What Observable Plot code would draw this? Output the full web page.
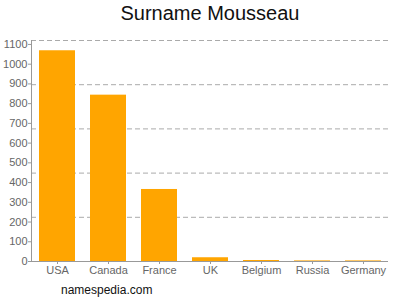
<!DOCTYPE html>
<html>
<head>
<meta charset="utf-8">
<script src="https://cdn.jsdelivr.net/npm/d3@7"></script>
<script src="https://cdn.jsdelivr.net/npm/@observablehq/plot@0.6"></script>
<style>
  html, body { margin: 0; padding: 0; background: #fff; }
  #wrap { position: relative; width: 400px; height: 300px; font-family: "Liberation Sans", Arial, sans-serif; }
  #title { position: absolute; left: 0; width: 420px; top: 2px; text-align: center; font-size: 20px; color: #111; }
  #caption { position: absolute; left: 61px; top: 283px; font-size: 12px; color: #111; }
  svg { position: absolute; left: 0; top: 0; }
</style>
</head>
<body>
<div id="wrap">
  <div id="chart"></div>
  <div id="title">Surname Mousseau</div>
  <div id="caption">namespedia.com</div>
</div>
<script>
const countries = ["USA", "Canada", "France", "UK", "Belgium", "Russia", "Germany"];
const counts = [1068, 843, 365, 19, 5, 3, 3];
const yTicks = [0, 100, 200, 300, 400, 500, 600, 700, 800, 900, 1000, 1100];
const gridValues = [224, 448, 672, 896, 1120];

const data = countries.map((c, i) => ({country: c, count: counts[i]}));

const chart = Plot.plot({
  width: 400,
  height: 300,
  marginLeft: 31,
  marginRight: 12,
  marginTop: 40,
  marginBottom: 39,
  style: {fontFamily: "Liberation Sans, Arial, sans-serif", fontSize: "11px", color: "#666", background: "transparent"},
  x: {domain: countries, paddingInner: 0.3, paddingOuter: 0.15, label: null},
  y: {domain: [0, 1120], label: null},
  marks: [
    Plot.ruleY(gridValues, {stroke: "#aaa", strokeDasharray: "5,3", strokeWidth: 1}),
    Plot.barY(data, {x: "country", y: "count", fill: "#FFA500"}),
    Plot.axisX({tickSize: 3, tickPadding: 2, stroke: "#999", color: "#666"}),
    Plot.axisY({ticks: yTicks, tickSize: 3, tickPadding: 1, stroke: "#999", color: "#666", tickFormat: d => String(d)}),
    Plot.ruleY([0], {stroke: "#999"}),
    Plot.frame({anchor: "left", stroke: "#999"})
  ]
});
document.getElementById("chart").appendChild(chart);
</script>
</body>
</html>
